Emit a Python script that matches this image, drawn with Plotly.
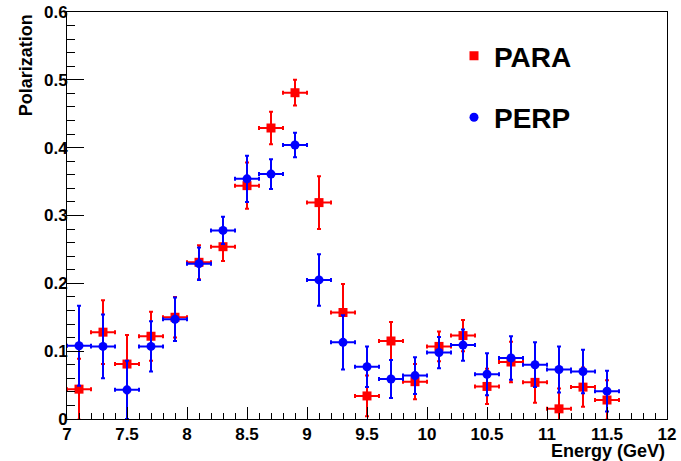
import plotly.graph_objects as go

energy = [7.1, 7.3, 7.5, 7.7, 7.9, 8.1, 8.3, 8.5, 8.7, 8.9, 9.1, 9.3, 9.5, 9.7, 9.9,
          10.1, 10.3, 10.5, 10.7, 10.9, 11.1, 11.3, 11.5]
energy_halfwidth = [0.1] * len(energy)

para = [0.044, 0.128, 0.081, 0.122, 0.150, 0.231, 0.254, 0.344, 0.429, 0.481, 0.319,
        0.157, 0.034, 0.115, 0.055, 0.107, 0.123, 0.048, 0.084, 0.054, 0.015, 0.047, 0.028]
para_err = [0.045, 0.047, 0.043, 0.036, 0.030, 0.025, 0.021, 0.034, 0.024, 0.019, 0.039,
            0.042, 0.030, 0.028, 0.026, 0.022, 0.023, 0.026, 0.030, 0.030, 0.030, 0.029, 0.029]

perp = [0.108, 0.107, 0.043, 0.107, 0.147, 0.229, 0.278, 0.354, 0.361, 0.404, 0.205,
        0.113, 0.077, 0.059, 0.064, 0.098, 0.109, 0.066, 0.090, 0.080, 0.073, 0.070, 0.041]
perp_err = [0.059, 0.047, 0.043, 0.037, 0.032, 0.024, 0.020, 0.034, 0.022, 0.018, 0.038,
            0.040, 0.030, 0.028, 0.027, 0.023, 0.023, 0.031, 0.032, 0.033, 0.034, 0.032, 0.030]

x_tickvals = [7, 7.5, 8, 8.5, 9, 9.5, 10, 10.5, 11, 11.5, 12]
x_ticktext = ["7", "7.5", "8", "8.5", "9", "9.5", "10", "10.5", "11", "11.5", "12"]
y_tickvals = [0, 0.1, 0.2, 0.3, 0.4, 0.5, 0.6]
y_ticktext = ["0", "0.1", "0.2", "0.3", "0.4", "0.5", "0.6"]

FONT = "Liberation Sans"

fig = go.Figure()
for name, vals, errs, color, symbol, grp in [
    ("PARA", para, para_err, "#ff0000", "square", "a"),
    ("PERP", perp, perp_err, "#0000ff", "circle", "b"),
]:
    fig.add_trace(go.Scatter(
        x=energy, y=vals, name=name, mode="markers", legendgroup=grp,
        marker=dict(symbol=symbol, size=9, color=color, line=dict(width=0)),
        error_y=dict(type="data", array=errs, color=color, thickness=2, width=2),
        error_x=dict(type="data", array=energy_halfwidth, color=color, thickness=2, width=2),
    ))

tickfont = dict(family=FONT, size=17, color="black")
fig.update_xaxes(
    range=[7, 12], tickmode="array", tickvals=x_tickvals,
    ticktext=["<b>%s</b>" % t for t in x_ticktext],
    ticks="inside", ticklen=12, tickwidth=1, automargin=False,
    tickcolor="black", showline=True, linecolor="black", linewidth=1, mirror=True,
    showgrid=False, zeroline=False, tickfont=tickfont,
    minor=dict(dtick=0.1, tick0=7, ticks="inside", ticklen=6, tickwidth=1, tickcolor="black", showgrid=False),
)
fig.update_yaxes(
    range=[0, 0.6], tickmode="array", tickvals=y_tickvals,
    ticktext=["<b>%s</b>" % t for t in y_ticktext],
    ticks="inside", ticklen=17, tickwidth=1, automargin=False, ticklabelstandoff=-5,
    tickcolor="black", showline=True, linecolor="black", linewidth=1, mirror=True,
    showgrid=False, zeroline=False, tickfont=tickfont,
    minor=dict(dtick=0.02, tick0=0, ticks="inside", ticklen=8, tickwidth=1, tickcolor="black", showgrid=False),
)

fig.add_annotation(text="<b>Energy (GeV)</b>", xref="paper", yref="paper", x=1, y=-0.0786,
                   xanchor="right", yanchor="middle", showarrow=False,
                   font=dict(family=FONT, size=18, color="black"))
fig.add_annotation(text="<b>Polarization</b>", xref="paper", yref="paper", x=-0.068, y=1,
                   xanchor="center", yanchor="top", textangle=-90, showarrow=False,
                   font=dict(family=FONT, size=18, color="black"))

fig.update_layout(
    width=681, height=461,
    margin=dict(l=67, r=14, t=12, b=42),
    paper_bgcolor="white", plot_bgcolor="white",
    showlegend=True,
    legend=dict(x=0.645, y=0.953, xanchor="left", yanchor="top",
                bgcolor="rgba(0,0,0,0)", borderwidth=0, tracegroupgap=22,
                font=dict(family=FONT, size=28, color="black", weight="bold"),
                itemsizing="trace"),
)

fig.write_html("out.html", config={"displayModeBar": False},
               post_script="document.body.style.margin='0';")
